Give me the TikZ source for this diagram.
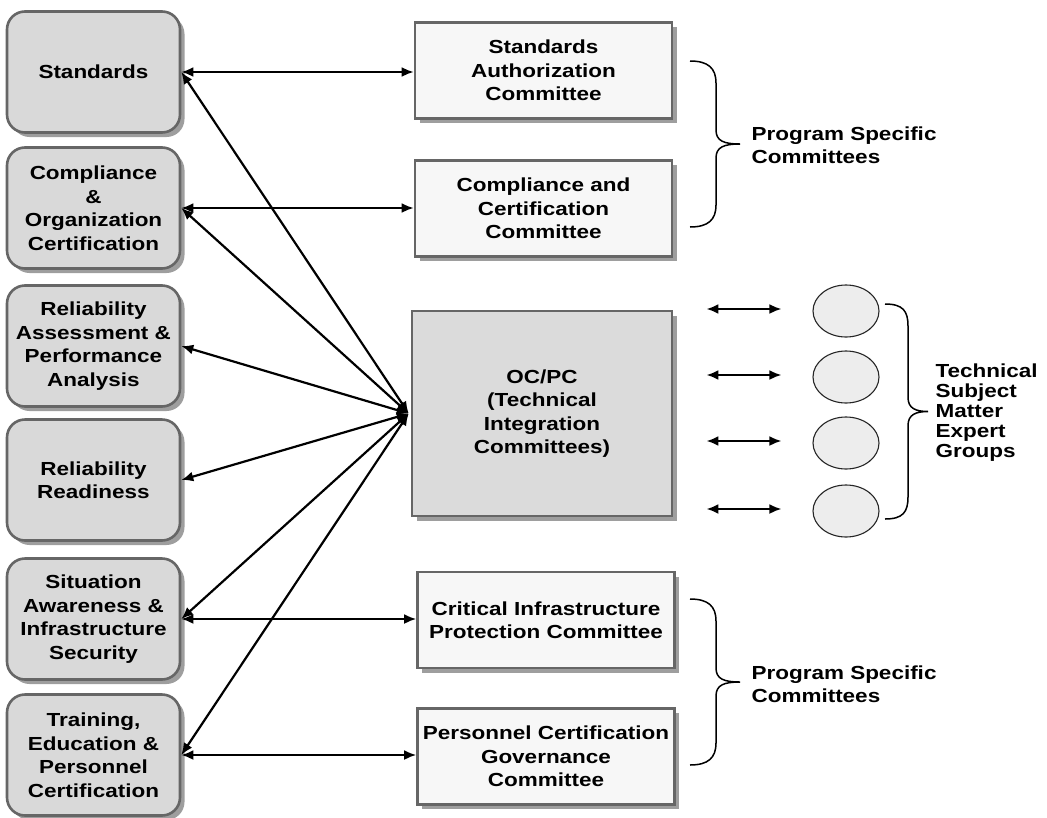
\documentclass[tikz,border=0pt]{standalone}
\usepackage{fontspec}
\setmainfont{Liberation Sans}[FakeStretch=1.19]
\usepackage{tikz}
\usetikzlibrary{calc, positioning, shapes.geometric, arrows.meta, shadows}

\begin{document}
\begin{tikzpicture}[x=1pt, y=-1pt,
        txt/.style={font=\bfseries\fontsize{18.9}{23.5}\selectfont, align=center},
        shd/.style={drop shadow={shadow xshift=4.5pt, shadow yshift=-4.5pt, fill=black!38, opacity=1}},
        area/.style={txt, shd, rectangle, rounded corners=18pt, draw=black!60, line width=2.6pt,
            fill=black!15, minimum width=173pt, minimum height=121pt, inner sep=1pt},
        cmte/.style={txt, shd, rectangle, draw=black!60, line width=2.6pt, fill=black!3,
            minimum width=257pt, minimum height=96pt, inner sep=1pt},
        grp/.style={ellipse, draw=black!85, line width=1.1pt, fill=black!7,
            minimum width=66pt, minimum height=52pt},
        side/.style={txt, align=left, anchor=west},
        link/.style={{Latex[length=12pt,width=10pt]}-{Latex[length=12pt,width=10pt]}, line width=2.2pt},
        brc/.style={line width=1.5pt}
    ]
    \useasboundingbox (0,0) rectangle (1047,817);

    % program areas
    \node[area] (std)  at (93.5,72)  {Standards};
    \node[area] (cmp)  at (93.5,208) {Compliance\\\&\\Organization\\Certification};
    \node[area] (raa)  at (93.5,346) {Reliability\\Assessment \&\\Performance\\Analysis};
    \node[area] (rr)   at (93.5,480) {Reliability\\Readiness};
    \node[area] (sais) at (93.5,619) {Situation\\Awareness \&\\Infrastructure\\Security};
    \node[area] (tepc) at (93.5,755) {Training,\\Education \&\\Personnel\\Certification};

    % committees
    \node[cmte] (sac)  at (543.5,70.5)  {Standards\\Authorization\\Committee};
    \node[cmte] (ccc)  at (543.5,208.5) {Compliance and\\Certification\\Committee};
    \node[cmte, fill=black!14, minimum width=260pt, minimum height=205pt] (ocpc) at (542,413.5)
        {OC/PC\\(Technical\\Integration\\Committees)};
    \node[cmte] (cipc) at (546,620)   {Critical Infrastructure\\Protection Committee};
    \node[cmte] (pcgc) at (546,756.5) {Personnel Certification\\Governance\\Committee};

    % expert groups
    \foreach \g/\gy in {1/311, 2/377, 3/443, 4/511} {
        \node[grp] (g\g) at (846,\gy) {};
        \coordinate (a\g) at ([xshift=-106pt, yshift=2pt]g\g.west);
        \coordinate (b\g) at ([xshift=-31pt, yshift=2pt]g\g.west);
        \draw[link] (a\g) -- (b\g);
    }

    \draw[link] (std.east)  -- (std.east -| sac.west);
    \draw[link] (cmp.east)  -- (cmp.east -| ccc.west);
    \draw[link] (sais.east) -- (sais.east -| cipc.west);
    \draw[link] (tepc.east) -- (tepc.east -| pcgc.west);

    \coordinate (hub) at ([xshift=-2pt]ocpc.west);
    \foreach \a in {std, cmp, raa, rr, sais, tepc}
        \draw[link] (hub) -- (\a.east);

    % braces
    \foreach \bx/\ba/\bb/\bv/\bt in {690/61/227/26/50, 690/599/765/26/50, 885/304/519/23/43} {
        \pgfmathsetmacro{\bm}{(\ba+\bb)/2}
        \draw[brc] (\bx,\ba) .. controls (\bx+18,\ba) and (\bx+\bv,\ba+7) .. (\bx+\bv,\ba+22)
            -- (\bx+\bv,\bm-14) .. controls (\bx+\bv,\bm-3) and (\bx+\bv+8,\bm) .. (\bx+\bt,\bm)
            .. controls (\bx+\bv+8,\bm) and (\bx+\bv,\bm+3) .. (\bx+\bv,\bm+14)
            -- (\bx+\bv,\bb-22) .. controls (\bx+\bv,\bb-7) and (\bx+18,\bb) .. (\bx,\bb);
    }
    \node[side] (psc1) at (748,145) {Program Specific\\Committees};
    \node[side] (psc2) at (748,684) {Program Specific\\Committees};
    \node[side, font=\bfseries\fontsize{18.9}{20}\selectfont] (tsme) at (932,413)
        {Technical\\Subject\\Matter\\Expert\\Groups};
\end{tikzpicture}
\end{document}
